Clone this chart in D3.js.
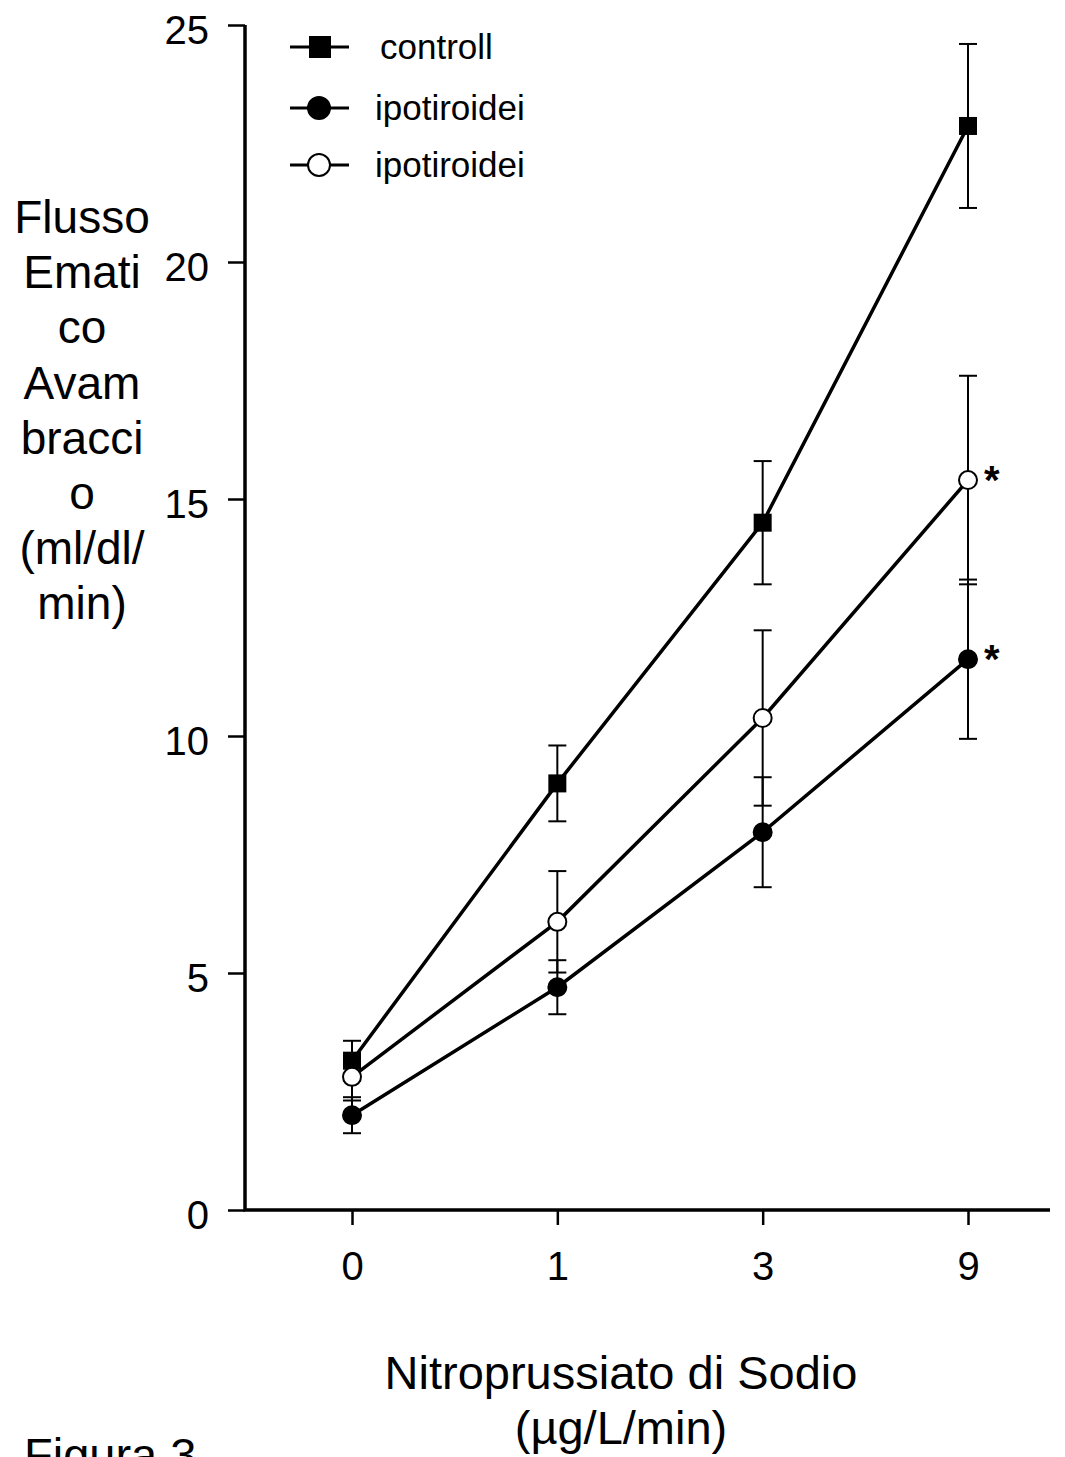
<!DOCTYPE html>
<html><head><meta charset="utf-8">
<script src="https://cdn.jsdelivr.net/npm/d3@7/dist/d3.min.js"></script>
<style>body{margin:0;background:#fff}svg{display:block;font-family:"Liberation Sans",Arial,sans-serif}</style>
</head><body>
<script>
const categories = ["0","1","3","9"];
const controllMean = [3.15, 9.0, 14.5, 22.87];
const controllErr  = [0.42, 0.8, 1.3, 1.73];
const ipoFilledMean = [2.0, 4.7, 7.97, 11.62];
const ipoFilledErr  = [0.38, 0.57, 1.16, 1.68];
const ipoOpenMean = [2.81, 6.08, 10.38, 15.4];
const ipoOpenErr  = [0.5, 1.07, 1.85, 2.2];
const yTicks = [0,5,10,15,20,25];
const legendLabels = ["controll","ipotiroidei","ipotiroidei"];
const yTitle = ["Flusso","Emati","co","Avam","bracci","o","(ml/dl/","min)"];
const xTitle = ["Nitroprussiato di Sodio","(µg/L/min)"];
const significant = [false,false,false,true];

const W=1065,H=1457;
const FONT="Liberation Sans, Arial, sans-serif";
const svg=d3.select("body").append("svg").attr("width",W).attr("height",H);
const x=d3.scalePoint().domain(categories).range([352,968]);
const y=d3.scaleLinear().domain([0,25]).range([1210,25]);

// axes
const yAx=svg.append("g").attr("transform","translate(245,0)")
  .call(d3.axisLeft(y).tickValues(yTicks).tickSize(17).tickPadding(19));
yAx.select(".domain").remove();
yAx.selectAll(".tick line").attr("stroke","#000").attr("stroke-width",2.5);
yAx.selectAll(".tick text").attr("font-size",40).attr("dy","0.45em").attr("fill","#000").attr("font-family",FONT);
const xAx=svg.append("g").attr("transform","translate(0,1211)")
  .call(d3.axisBottom(x).tickSize(14).tickPadding(27));
xAx.select(".domain").remove();
xAx.selectAll(".tick line").attr("stroke","#000").attr("stroke-width",2.5);
xAx.selectAll(".tick text").attr("font-size",40).attr("fill","#000").attr("font-family",FONT);
svg.append("path").attr("d",`M245,${y(25)}V${y(0)}H1050`).attr("fill","none").attr("stroke","#000").attr("stroke-width",3.5);

const series=[
  {mean:controllMean,err:controllErr,type:"square",fill:"#000"},
  {mean:ipoOpenMean,err:ipoOpenErr,type:"circle",fill:"#fff"},
  {mean:ipoFilledMean,err:ipoFilledErr,type:"circle",fill:"#000"}
];
const line=d3.line().x((d,i)=>x(categories[i])).y(d=>y(d));
// error bars
series.forEach(s=>{
  const g=svg.append("g");
  s.mean.forEach((m,i)=>{
    const cx=x(categories[i]);
    g.append("line").attr("x1",cx).attr("x2",cx).attr("y1",y(m-s.err[i])).attr("y2",y(m+s.err[i])).attr("stroke","#000").attr("stroke-width",2);
    [m-s.err[i],m+s.err[i]].forEach(v=>g.append("line").attr("x1",cx-9).attr("x2",cx+9).attr("y1",y(v)).attr("y2",y(v)).attr("stroke","#000").attr("stroke-width",2));
  });
});
series.forEach(s=>{
  svg.append("path").attr("d",line(s.mean)).attr("fill","none").attr("stroke","#000").attr("stroke-width",3.5);
});
series.forEach(s=>{
  s.mean.forEach((m,i)=>{
    const cx=x(categories[i]),cy=y(m);
    if(s.type==="square") svg.append("rect").attr("x",cx-9).attr("y",cy-9).attr("width",18).attr("height",18).attr("fill","#000");
    else svg.append("circle").attr("cx",cx).attr("cy",cy).attr("r",9).attr("fill",s.fill).attr("stroke","#000").attr("stroke-width",2);
  });
});
// asterisks
[ipoOpenMean,ipoFilledMean].forEach(arr=>{
  arr.forEach((m,i)=>{ if(significant[i]) svg.append("text").attr("x",x(categories[i])+16).attr("y",y(m)+14).attr("font-size",40).attr("font-weight","bold").attr("font-family",FONT).text("*"); });
});
// legend
const legY=[47,108,165];
const legTypes=[series[0],series[2],series[1]];
legendLabels.forEach((lab,i)=>{
  const s=legTypes[i], ly=legY[i];
  svg.append("line").attr("x1",290).attr("x2",349).attr("y1",ly).attr("y2",ly).attr("stroke","#000").attr("stroke-width",3);
  if(s.type==="square") svg.append("rect").attr("x",309).attr("y",ly-11).attr("width",22).attr("height",22).attr("fill","#000");
  else svg.append("circle").attr("cx",319).attr("cy",ly).attr("r",11).attr("fill",s.fill).attr("stroke","#000").attr("stroke-width",2);
  svg.append("text").attr("x",i===0?380:375).attr("y",ly+12).attr("font-size",35).text(lab);
});
// y title
svg.append("g").selectAll("text").data(yTitle).join("text")
  .attr("x",82).attr("y",(d,i)=>233+i*55.2).attr("text-anchor","middle").attr("font-size",46).text(d=>d);
svg.append("g").selectAll("text").data(xTitle).join("text")
  .attr("x",621).attr("y",(d,i)=>1389+i*55).attr("text-anchor","middle").attr("font-size",47).text(d=>d);
svg.append("text").attr("x",24).attr("y",1471).attr("font-size",47).text("Figura 3");
</script>
</body></html>
